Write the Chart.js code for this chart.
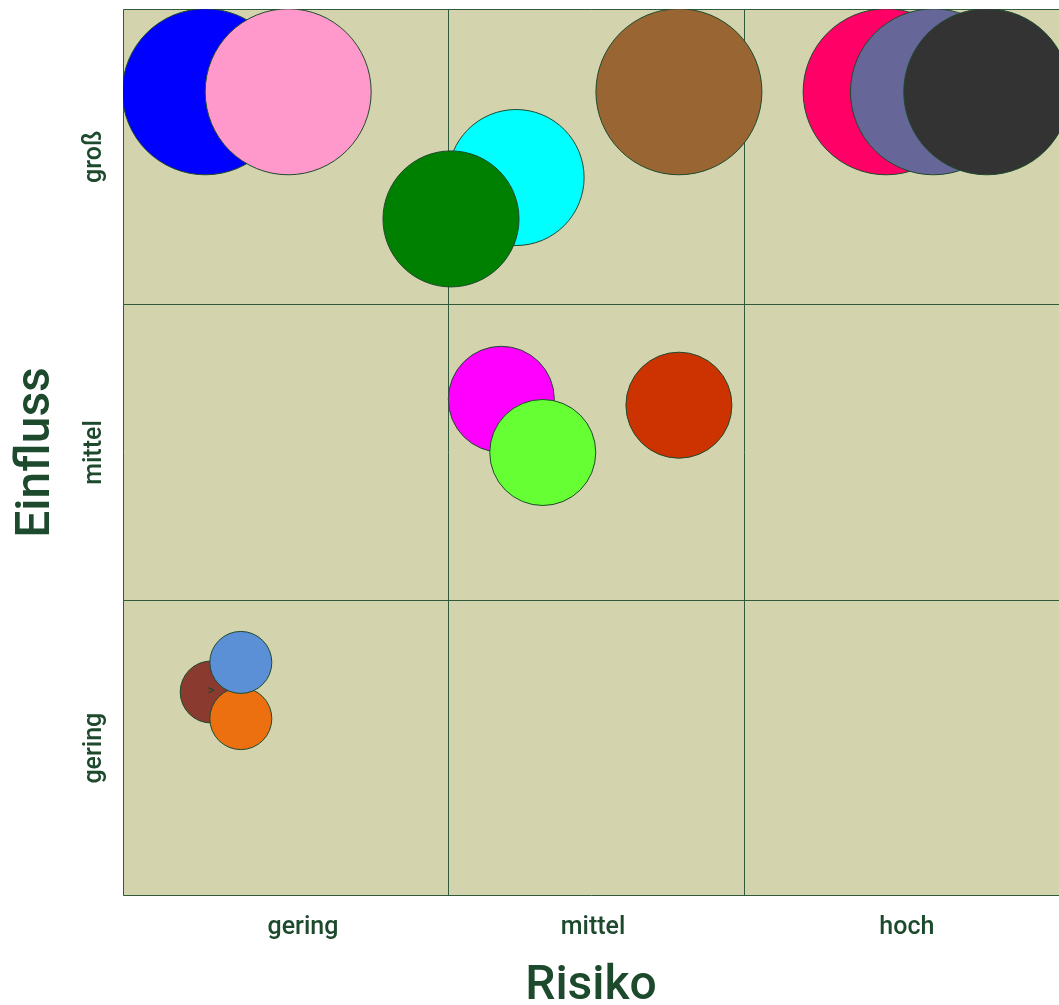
<!DOCTYPE html>
<html>
<head>
<meta charset="utf-8">
<script src="https://cdn.jsdelivr.net/npm/chart.js@4/dist/chart.umd.min.js"></script>
<style>
  html, body { margin: 0; padding: 0; background: #fff; }
  #wrap { width: 1059px; height: 1005px; }
</style>
</head>
<body>
<div id="wrap"><canvas id="matrixChart"></canvas></div>
<script>
// categories
const riskLabels = ["gering", "mittel", "hoch"];
const influenceLabels = ["gering", "mittel", "groß"];

// bubbles (x = Risiko, y = Einfluss, r = Größe)
const bubbleX = [0.18, 0.46, 1.23, 1.01, 1.78, 2.48, 2.64, 2.82, 1.18, 1.32, 1.78, 0.20, 0.30, 0.30];
const bubbleY = [2.72, 2.72, 2.43, 2.29, 2.72, 2.72, 2.72, 2.72, 1.68, 1.50, 1.66, 0.69, 0.60, 0.79];
const bubbleR = [83, 83, 68, 68, 83, 83, 83, 83, 53, 53, 53, 31, 31, 31];
const bubbleText = ["", "", "", "", "", "", "", "", "", "", "", ">", "", ""];

const bubbleColors = ["#0000ff", "#ff99cc", "#00ffff", "#008000", "#996633", "#ff0066", "#666699", "#333333",
  "#ff00ff", "#66ff33", "#cc3300", "#8b3a30", "#ec700f", "#5b8fd6"];

const darkGreen = "#1d4a2d";
const gridGreen = "#2f5a3c";
const fieldColor = "#d3d3ad";
const fontFamily = "Roboto, 'DejaVu Sans', sans-serif";

const points = bubbleX.map((x, i) => ({ x: x, y: bubbleY[i], r: bubbleR[i] }));

const matrixPlugin = {
  id: "matrix",
  beforeDraw(chart) {
    const { ctx, chartArea: a } = chart;
    ctx.save();
    ctx.fillStyle = fieldColor;
    ctx.fillRect(a.left, a.top, a.right - a.left, a.bottom - a.top);
    ctx.restore();
  },
  beforeDatasetsDraw(chart) {
    const { ctx, chartArea: a } = chart;
    ctx.save();
    ctx.strokeStyle = gridGreen;
    ctx.lineWidth = 1;
    ctx.beginPath();
    ctx.moveTo(a.right, a.top + 0.5);
    ctx.lineTo(a.left + 0.5, a.top + 0.5);
    ctx.lineTo(a.left + 0.5, a.bottom - 0.5);
    ctx.lineTo(a.right, a.bottom - 0.5);
    ctx.stroke();
    ctx.restore();
  },
  afterDraw(chart) {
    const { ctx } = chart;
    const yScale = chart.scales.y;
    ctx.save();
    // y tick labels, rotated
    ctx.fillStyle = darkGreen;
    ctx.font = "500 25px " + fontFamily;
    ctx.textAlign = "center";
    ctx.textBaseline = "middle";
    influenceLabels.forEach((lab, i) => {
      ctx.save();
      ctx.translate(95, yScale.getPixelForValue(i + 0.5));
      ctx.rotate(-Math.PI / 2);
      ctx.fillText(lab, 0, 0);
      ctx.restore();
    });
    // bubble text
    const meta = chart.getDatasetMeta(0);
    ctx.font = "14px " + fontFamily;
    meta.data.forEach((el, i) => {
      if (bubbleText[i]) ctx.fillText(bubbleText[i], el.x, el.y);
    });
    ctx.restore();
  }
};

new Chart(document.getElementById("matrixChart"), {
  type: "bubble",
  data: {
    datasets: [{
      data: points,
      backgroundColor: bubbleColors,
      borderColor: darkGreen,
      borderWidth: 1,
      hoverBorderWidth: 1
    }]
  },
  options: {
    responsive: true,
    maintainAspectRatio: false,
    animation: false,
    events: [],
    layout: { autoPadding: false, padding: { top: 9, right: 0, left: 0, bottom: 0 } },
    plugins: { legend: { display: false }, tooltip: { enabled: false } },
    scales: {
      x: {
        type: "linear",
        min: -0.098,
        max: 3.064,
        afterBuildTicks: (scale) => {
          scale.ticks = [0.51, 1, 1.49, 2, 2.55].map(v => ({ value: v }));
        },
        afterFit: (scale) => { scale.height = 109; },
        grid: {
          drawTicks: false,
          color: (c) => Number.isInteger(c.tick.value) ? gridGreen : "rgba(0,0,0,0)",
          lineWidth: 1
        },
        border: { display: false },
        ticks: {
          autoSkip: false,
          maxRotation: 0,
          padding: 17,
          color: darkGreen,
          font: { family: fontFamily, size: 25, weight: "500" },
          callback: (v) => Number.isInteger(v) ? "" : riskLabels[Math.floor(v)]
        },
        title: {
          display: true,
          text: "Risiko",
          color: darkGreen,
          font: { family: fontFamily, size: 48, weight: "500", lineHeight: 0.75 },
          padding: { top: 0, bottom: 0 }
        }
      },
      y: {
        type: "linear",
        min: 0,
        max: 3,
        afterBuildTicks: (scale) => {
          scale.ticks = [1, 2].map(v => ({ value: v }));
        },
        afterFit: (scale) => { scale.width = 123; },
        grid: { drawTicks: false, color: gridGreen, lineWidth: 1 },
        border: { display: false },
        ticks: { display: false },
        title: {
          display: true,
          text: "Einfluss",
          color: darkGreen,
          font: { family: fontFamily, size: 48, weight: "500" },
          padding: { top: 8, bottom: 0 }
        }
      }
    }
  },
  plugins: [matrixPlugin]
});
</script>
</body>
</html>
